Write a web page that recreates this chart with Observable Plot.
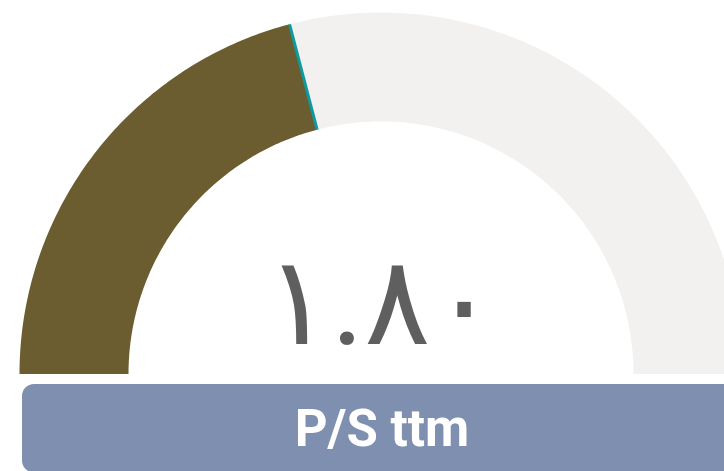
<!DOCTYPE html>
<html>
<head>
<meta charset="utf-8">
<script src="https://cdn.jsdelivr.net/npm/d3@7"></script>
<script src="https://cdn.jsdelivr.net/npm/@observablehq/plot@0.6"></script>
<style>
  html, body { margin: 0; padding: 0; background: #fff; overflow: hidden; width: 724px; height: 471px; }
  #chart svg { display: block; }
</style>
</head>
<body>
<div id="chart"></div>
<script>
// ---- data ----
const gaugeMin = 0;
const gaugeMax = 4.3;             // estimated scale maximum
const gaugeValue = 1.80;
const valueLabel = ["۱.۸۰"];
const titleLabel = ["P/S ttm"];
const segmentNames = ["value", "rest"];
const segmentColors = ["#6b5d30", "#f2f1f0"];

// ---- geometry helpers ----
const innerR = 252.5, outerR = 361.5;
const angleOf = v => Math.PI - (v - gaugeMin) / (gaugeMax - gaugeMin) * Math.PI;
function annulus(name, a, b) {
  const pts = [];
  const n = 120;
  for (let i = 0; i <= n; i++) {
    const t = angleOf(a + (b - a) * i / n);
    pts.push({seg: name, x: outerR * Math.cos(t), y: outerR * Math.sin(t)});
  }
  for (let i = n; i >= 0; i--) {
    const t = angleOf(a + (b - a) * i / n);
    pts.push({seg: name, x: innerR * Math.cos(t), y: innerR * Math.sin(t)});
  }
  return pts;
}
const bounds = [[gaugeMin, gaugeValue], [gaugeValue, gaugeMax]];
const arcPts = segmentNames.flatMap((s, i) => annulus(s, bounds[i][0], bounds[i][1]));
const marker = [{
  x1: innerR * Math.cos(angleOf(gaugeValue)), y1: innerR * Math.sin(angleOf(gaugeValue)),
  x2: outerR * Math.cos(angleOf(gaugeValue)), y2: outerR * Math.sin(angleOf(gaugeValue))
}];

const chart = Plot.plot({
  width: 724,
  height: 471,
  margin: 0,
  x: {domain: [-380.5, 343.5], axis: null},
  y: {domain: [-97.5, 373.5], axis: null},
  color: {domain: segmentNames, range: segmentColors},
  style: {background: "#fff", overflow: "hidden"},
  marks: [
    Plot.line(arcPts, {x: "x", y: "y", z: "seg", fill: "seg", stroke: "none", curve: "linear-closed"}),
    Plot.link(marker, {x1: "x1", y1: "y1", x2: "x2", y2: "y2", stroke: "#0e9a9e", strokeWidth: 3}),
    Plot.text(valueLabel, {x: () => 0, y: () => 30.5, text: d => d, fill: "#5f5f5f",
      fontSize: 124, textAnchor: "middle", lineAnchor: "bottom",
      fontFamily: "Roboto, 'DejaVu Sans', sans-serif"}),
    Plot.rect([0], {x1: () => -358.5, x2: () => 360, y1: () => -10.5, y2: () => -99, fill: "#7f8fb0", rx: 12}),
    Plot.text(titleLabel, {x: () => 1, y: () => -71.5, text: d => d, fill: "#fff",
      fontSize: 51, fontWeight: "bold", textAnchor: "middle", lineAnchor: "bottom",
      fontFamily: "Roboto, sans-serif"})
  ]
});
document.getElementById("chart").appendChild(chart);
</script>
</body>
</html>
